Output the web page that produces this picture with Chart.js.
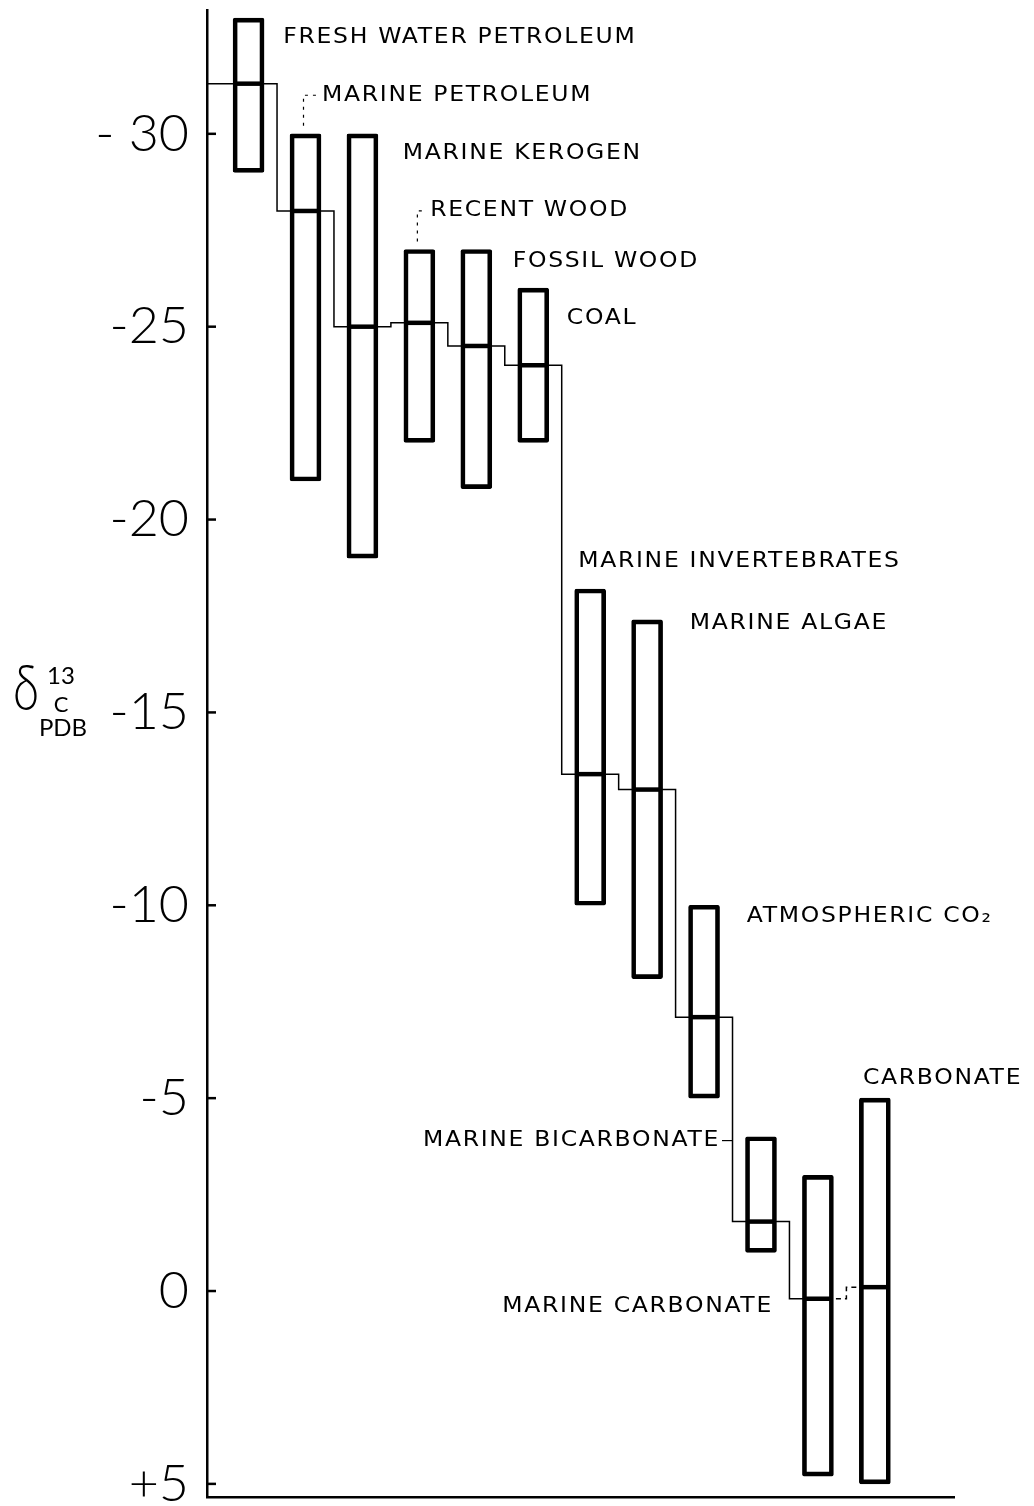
<!DOCTYPE html>
<html>
<head>
<meta charset="utf-8">
<script src="https://cdn.jsdelivr.net/npm/chart.js@4.4.1/dist/chart.umd.min.js"></script>
<style>
    html, body { margin: 0; padding: 0; background: #fff; }
    #wrap { position: relative; width: 1034px; height: 1506px; }
</style>
</head>
<body>
<div id="wrap"><canvas id="isotopeChart"></canvas></div>
<script>
// delta 13C (PDB) ranges, one box per group
const groups = ['FRESH WATER PETROLEUM', 'MARINE PETROLEUM', 'MARINE KEROGEN', 'RECENT WOOD', 'FOSSIL WOOD', 'COAL',
    'MARINE INVERTEBRATES', 'MARINE ALGAE', 'ATMOSPHERIC CO₂', 'MARINE BICARBONATE', 'MARINE CARBONATE', 'CARBONATE'];
const rangeLow  = [-33.0, -30.0, -30.0, -27.0, -27.0, -26.0, -18.2, -17.4, -10.0, -4.0, -3.0, -5.0];
const rangeHigh = [-29.0, -21.0, -19.0, -22.0, -20.8, -22.0, -10.0, -8.1, -5.0, -1.0, 4.8, 5.0];
const medians   = [-31.3, -28.0, -25.0, -25.1, -24.5, -24.0, -13.4, -13.0, -7.1, -1.8, 0.2, -0.1];

const yTicks = [-30, -25, -20, -15, -10, -5, 0, 5];
const yTickText = ['- 30', '-25', '-20', '-15', '-10', '-5', '0', '+5'];

// name anchors in axis units (x = slot number, y = delta value)
const labelX = [1.61, 2.29, 3.71, 4.19, 5.64, 6.59, 6.79, 8.75, 9.75, 9.28, 10.21, 11.79];
const labelY = [-32.5, -31.0, -29.5, -28.0, -26.7, -25.2, -18.9, -17.3, -9.7, -3.9, 0.4, -5.5];
const labelAlign = ['left', 'left', 'left', 'left', 'left', 'left', 'left', 'left', 'left', 'right', 'right', 'left'];
const leaders = [null, 'up', null, 'up', null, null, null, null, null, 'side', null, null];

const X_MIN = 0.27, X_MAX = 13.39;
const Y_MIN = -33.21, Y_MAX = 5.34;
const STRETCH = 1.12;

const slots = groups.map((g, i) => i + 1);
const boxData = slots.map((s, i) => ({x: s, y: [rangeLow[i], rangeHigh[i]]}));
const medianData = slots.map((s, i) => ({x: s, y: medians[i]}));
const stepData = [{x: X_MIN, y: medians[0]}].concat(medianData);

const innerTicks = {
    id: 'innerTicks',
    afterDraw(chart) {
        const {ctx, chartArea, scales: {y}} = chart;
        ctx.save();
        ctx.strokeStyle = '#000';
        ctx.lineWidth = 2.5;
        yTicks.forEach(v => {
            const py = y.getPixelForValue(v);
            ctx.beginPath();
            ctx.moveTo(chartArea.left, py);
            ctx.lineTo(chartArea.left + 9, py);
            ctx.stroke();
        });
        ctx.restore();
    }
};

const yTitle = {
    id: 'yTitle',
    afterDraw(chart) {
        const {ctx, chartArea, scales: {y}} = chart;
        const cy = y.getPixelForValue(-15);
        const lx = chartArea.left;
        ctx.save();
        ctx.fillStyle = '#000';
        ctx.textAlign = 'center';
        ctx.textBaseline = 'middle';
        ctx.save();
        ctx.translate(lx - 181, cy - 23);
        ctx.scale(0.75, 1);
        ctx.font = '300 64px Lato';
        ctx.fillText('δ', 0, 0);
        ctx.restore();
        ctx.font = '24px Lato';
        ctx.fillText('13', lx - 146, cy - 36);
        ctx.font = '22px Lato';
        ctx.fillText('C', lx - 146, cy - 8);
        ctx.font = '24px Lato';
        ctx.fillText('PDB', lx - 144, cy + 16);
        ctx.restore();
    }
};

const groupLabels = {
    id: 'groupLabels',
    afterDatasetsDraw(chart) {
        const {ctx, scales: {x, y}} = chart;
        ctx.save();
        ctx.fillStyle = '#000';
        ctx.strokeStyle = '#000';
        ctx.font = '21px "DejaVu Sans"';
        ctx.letterSpacing = '1.5px';
        ctx.textBaseline = 'middle';
        ctx.textAlign = 'left';
        groups.forEach((name, i) => {
            const px = x.getPixelForValue(labelX[i]);
            const py = y.getPixelForValue(labelY[i]);
            const w = ctx.measureText(name).width * STRETCH;
            const left = labelAlign[i] === 'right' ? px - w : px;
            ctx.save();
            ctx.translate(left, py);
            ctx.scale(STRETCH, 1);
            ctx.fillText(name, 0, 0);
            ctx.restore();

            if (leaders[i] === 'up') {
                const bx = x.getPixelForValue(slots[i]) - 2;
                const by = y.getPixelForValue(rangeLow[i]) - 8;
                ctx.lineWidth = 1.2;
                ctx.setLineDash([3, 5]);
                ctx.beginPath();
                ctx.moveTo(bx, by);
                ctx.lineTo(bx, py);
                ctx.lineTo(left - 4, py);
                ctx.stroke();
                ctx.setLineDash([]);
            } else if (leaders[i] === 'side') {
                const sx = x.getPixelForValue(slots[i] - 0.5);
                ctx.lineWidth = 1.2;
                ctx.beginPath();
                ctx.moveTo(left + w + 2, py);
                ctx.lineTo(sx, py);
                ctx.stroke();
            }
        });
        ctx.restore();
    }
};

new Chart(document.getElementById('isotopeChart').getContext('2d'), {
    type: 'bar',
    data: {
        datasets: [
            {
                type: 'line',
                label: 'trend',
                data: stepData,
                stepped: 'middle',
                borderColor: '#000',
                borderWidth: 1.5,
                pointRadius: 0,
                fill: false,
                order: 3,
                segment: {
                    borderDash: c => c.p1DataIndex === stepData.length - 1 ? [5, 4] : undefined
                }
            },
            {
                type: 'bar',
                label: 'range',
                data: boxData,
                backgroundColor: 'rgba(0,0,0,0)',
                borderColor: '#000',
                borderWidth: 4,
                borderSkipped: false,
                borderRadius: 2,
                barThickness: 31,
                order: 2
            },
            {
                type: 'line',
                label: 'median',
                data: medianData,
                showLine: false,
                pointStyle: 'line',
                pointRadius: 15,
                pointBorderWidth: 4.5,
                pointBorderColor: '#000',
                borderColor: '#000',
                order: 1
            }
        ]
    },
    options: {
        responsive: true,
        maintainAspectRatio: false,
        animation: false,
        events: [],
        layout: { autoPadding: false, padding: { top: 10, right: 80, bottom: 9, left: 0 } },
        plugins: {
            legend: { display: false },
            tooltip: { enabled: false }
        },
        scales: {
            x: {
                type: 'linear',
                min: X_MIN,
                max: X_MAX,
                offset: false,
                grid: { display: false, drawTicks: false },
                ticks: { display: false },
                border: { display: true, color: '#000', width: 2.5 },
                afterFit: s => { s.height = 0; s.paddingLeft = 0; s.paddingRight = 0; }
            },
            y: {
                type: 'linear',
                reverse: true,
                min: Y_MIN,
                max: Y_MAX,
                grid: { display: false, drawTicks: false },
                border: { display: true, color: '#000', width: 2.5 },
                ticks: {
                    padding: 18,
                    color: '#000',
                    font: { family: 'Lato', size: 52, weight: '300' },
                    callback: v => {
                        const k = yTicks.indexOf(v);
                        return k < 0 ? '' : yTickText[k];
                    }
                },
                afterBuildTicks: s => { s.ticks = yTicks.map(v => ({value: v})); },
                afterFit: s => { s.width = 207; s.paddingTop = 0; s.paddingBottom = 0; }
            }
        }
    },
    plugins: [innerTicks, yTitle, groupLabels]
});
</script>
</body>
</html>
